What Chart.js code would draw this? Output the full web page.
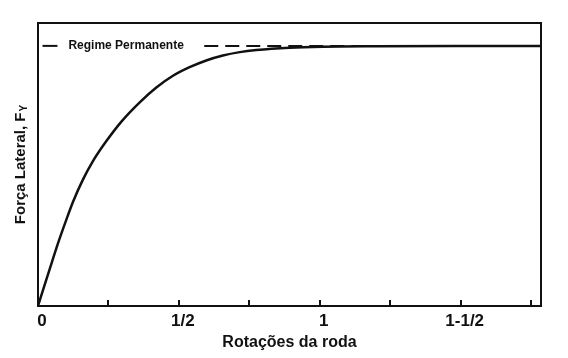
<!DOCTYPE html>
<html>
<head>
<meta charset="utf-8">
<script src="https://cdn.jsdelivr.net/npm/chart.js@4/dist/chart.umd.min.js"></script>
<style>
html,body{margin:0;padding:0;background:#fff;}
#wrap{width:568px;height:358px;position:relative;}
</style>
</head>
<body>
<div id="wrap"><canvas id="c" width="568" height="358"></canvas></div>
<script>
// ---- data ----
const rotations = [0, 0.027, 0.050, 0.070, 0.100, 0.124, 0.159, 0.195, 0.242, 0.296, 0.361, 0.420, 0.479, 0.538, 0.597, 0.656, 0.716, 0.775, 0.893, 1.01, 1.2, 1.5, 1.785];
const lateralForce = [0, 0.093, 0.171, 0.238, 0.330, 0.400, 0.485, 0.557, 0.633, 0.709, 0.783, 0.840, 0.885, 0.918, 0.944, 0.963, 0.976, 0.984, 0.993, 0.997, 0.999, 1.0, 1.0];
const steadyValue = 1.0;
const steadyDashX = [0.59, 1.785];
const legendDashX = [0.016, 0.069];
const legendText = "Regime Permanente";
const legendTextX = 0.108;
const xTickValues = [0, 0.25, 0.5, 0.75, 1, 1.25, 1.5, 1.75];
const xTickLabels = ["0", "", "1/2", "", "1", "", "1-1/2", ""];
const xTitle = "Rotações da roda";
const yTitle = "Força Lateral, F";
const yTitleSub = "Y";
const xMax = 1.785;
const yMax = 1.088;

const FONT = "'Liberation Sans', Arial, Helvetica, sans-serif";

const drawPlugin = {
  id: 'decor',
  afterDatasetsDraw(chart) {
    const ctx = chart.ctx;
    const a = chart.chartArea;
    const xs = chart.scales.x, ys = chart.scales.y;
    ctx.save();
    // frame
    ctx.strokeStyle = '#111';
    ctx.lineWidth = 2;
    ctx.strokeRect(a.left, a.top, a.right - a.left, a.bottom - a.top);
    // inward ticks
    ctx.lineWidth = 2;
    xTickValues.forEach(v => {
      const px = Math.round(xs.getPixelForValue(v));
      if (v === 0) return;
      ctx.beginPath();
      ctx.moveTo(px, a.bottom);
      ctx.lineTo(px, a.bottom - 6);
      ctx.stroke();
    });
    // tick labels
    ctx.fillStyle = '#111';
    ctx.font = "bold 17px " + FONT;
    ctx.textAlign = 'center';
    ctx.textBaseline = 'middle';
    xTickValues.forEach((v, i) => {
      if (!xTickLabels[i]) return;
      ctx.fillText(xTickLabels[i], xs.getPixelForValue(v) + 4, a.bottom + 15);
    });
    // x title
    ctx.font = "bold 16px " + FONT;
    ctx.textBaseline = 'alphabetic';
    ctx.fillText(xTitle, (a.left + a.right) / 2, 347);
    // legend text
    ctx.font = "bold 12px " + FONT;
    ctx.textAlign = 'left';
    ctx.textBaseline = 'middle';
    ctx.fillText(legendText, xs.getPixelForValue(legendTextX), ys.getPixelForValue(steadyValue));
    // y title rotated
    ctx.font = "bold 15px " + FONT;
    const w1 = ctx.measureText(yTitle).width;
    ctx.font = "bold 10px " + FONT;
    const w2 = ctx.measureText(yTitleSub).width;
    const total = w1 + w2 + 1;
    ctx.translate(25, (a.top + a.bottom) / 2);
    ctx.rotate(-Math.PI / 2);
    ctx.textAlign = 'left';
    ctx.textBaseline = 'alphabetic';
    ctx.font = "bold 15px " + FONT;
    ctx.fillText(yTitle, -total / 2, 0);
    ctx.font = "bold 10px " + FONT;
    ctx.fillText(yTitleSub, -total / 2 + w1 + 1, 2);
    ctx.restore();
  }
};

new Chart(document.getElementById('c'), {
  type: 'line',
  data: {
    datasets: [
      {
        data: rotations.map((r, i) => ({x: r, y: lateralForce[i]})),
        borderColor: '#111',
        borderWidth: 2.5,
        pointRadius: 0,
        cubicInterpolationMode: 'monotone',
        fill: false
      },
      {
        data: steadyDashX.map(x => ({x: x, y: steadyValue})),
        borderColor: '#111',
        borderWidth: 2,
        borderDash: [14, 7],
        pointRadius: 0,
        fill: false
      },
      {
        data: legendDashX.map(x => ({x: x, y: steadyValue})),
        borderColor: '#111',
        borderWidth: 2,
        pointRadius: 0,
        fill: false
      }
    ]
  },
  options: {
    responsive: false,
    animation: false,
    layout: { padding: { left: 38, top: 23, right: 27, bottom: 52 } },
    plugins: { legend: { display: false }, tooltip: { enabled: false }, title: { display: false } },
    scales: {
      x: { type: 'linear', min: 0, max: xMax, display: false },
      y: { type: 'linear', min: 0, max: yMax, display: false }
    }
  },
  plugins: [drawPlugin]
});
</script>
</body>
</html>
